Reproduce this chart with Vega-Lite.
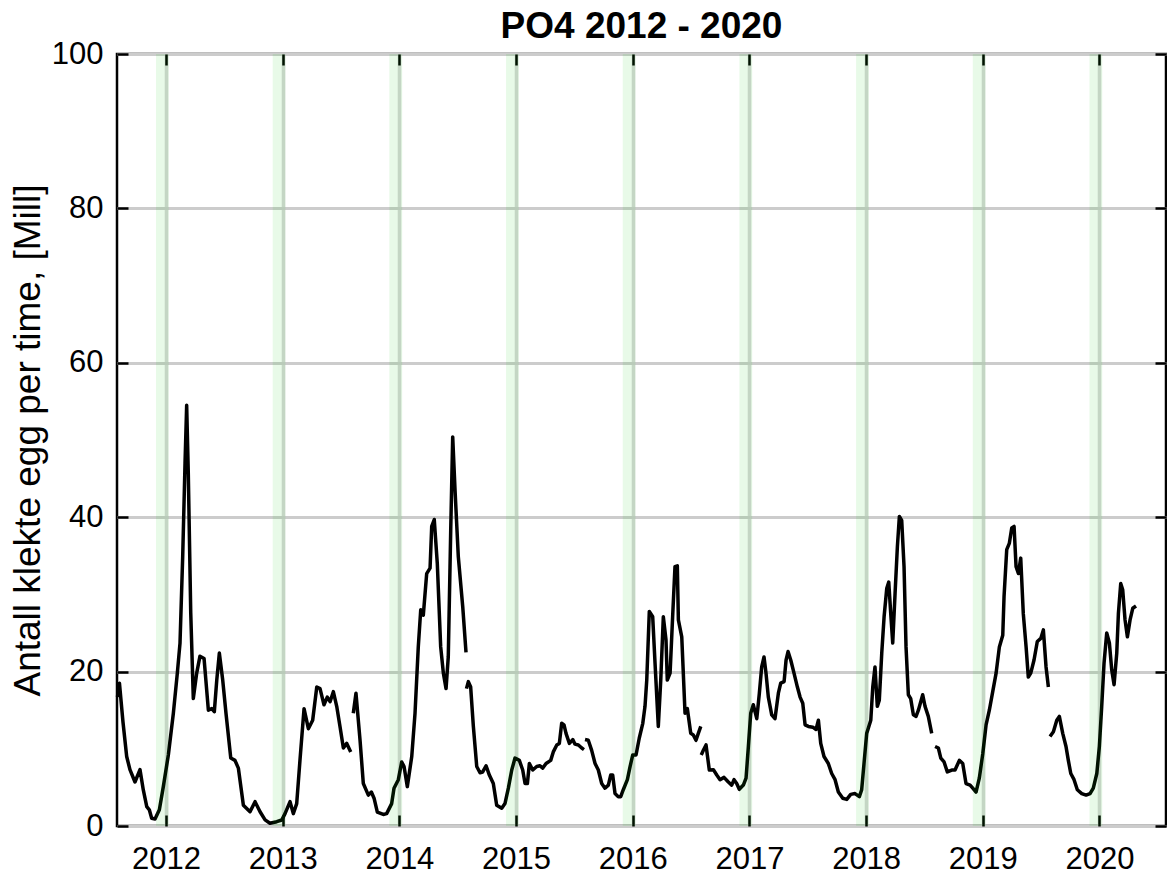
{
  "$schema": "https://vega.github.io/schema/vega-lite/v6.json",
  "autosize": "none",
  "width": 1049,
  "height": 772,
  "padding": {"left": 117, "top": 54, "right": 1, "bottom": 49},
  "background": "white",
  "title": {"text": "PO4 2012 - 2020", "fontSize": 37, "fontWeight": "bold", "font": "Liberation Sans", "color": "black", "anchor": "middle", "frame": "group", "baseline": "alphabetic", "offset": -37},
  "config": {
    "view": {"stroke": "black", "strokeWidth": 2.5},
    "axis": {"labelFont": "Liberation Sans", "titleFont": "Liberation Sans", "labelColor": "black", "titleColor": "black"}
  },
  "datasets": {
    "series": [
      {"t": 2011.584, "v": 16.7, "seg": 1}, {"t": 2011.601, "v": 18.5, "seg": 1}, {"t": 2011.631, "v": 13.5, "seg": 1}, {"t": 2011.663, "v": 9.0, "seg": 1}, {"t": 2011.691, "v": 7.3, "seg": 1}, {"t": 2011.734, "v": 5.7, "seg": 1}, {"t": 2011.777, "v": 7.3, "seg": 1}, {"t": 2011.805, "v": 4.7, "seg": 1}, {"t": 2011.835, "v": 2.5, "seg": 1}, {"t": 2011.857, "v": 2.1, "seg": 1}, {"t": 2011.877, "v": 1.0, "seg": 1}, {"t": 2011.906, "v": 0.9, "seg": 1}, {"t": 2011.943, "v": 2.1, "seg": 1}, {"t": 2011.977, "v": 5.1, "seg": 1}, {"t": 2012.020, "v": 9.2, "seg": 1}, {"t": 2012.063, "v": 14.6, "seg": 1}, {"t": 2012.097, "v": 19.8, "seg": 1}, {"t": 2012.120, "v": 23.7, "seg": 1}, {"t": 2012.143, "v": 34.9, "seg": 1}, {"t": 2012.163, "v": 47.0, "seg": 1}, {"t": 2012.177, "v": 54.5, "seg": 1}, {"t": 2012.191, "v": 45.7, "seg": 1}, {"t": 2012.212, "v": 27.6, "seg": 1}, {"t": 2012.234, "v": 16.5, "seg": 1}, {"t": 2012.263, "v": 19.8, "seg": 1}, {"t": 2012.291, "v": 22.0, "seg": 1}, {"t": 2012.326, "v": 21.7, "seg": 1}, {"t": 2012.363, "v": 15.0, "seg": 1}, {"t": 2012.392, "v": 15.2, "seg": 1}, {"t": 2012.414, "v": 14.8, "seg": 1}, {"t": 2012.435, "v": 18.9, "seg": 1}, {"t": 2012.457, "v": 22.4, "seg": 1}, {"t": 2012.486, "v": 18.9, "seg": 1}, {"t": 2012.514, "v": 14.6, "seg": 1}, {"t": 2012.555, "v": 8.8, "seg": 1}, {"t": 2012.591, "v": 8.5, "seg": 1}, {"t": 2012.620, "v": 7.5, "seg": 1}, {"t": 2012.663, "v": 2.7, "seg": 1}, {"t": 2012.720, "v": 1.85, "seg": 1}, {"t": 2012.763, "v": 3.15, "seg": 1}, {"t": 2012.806, "v": 1.85, "seg": 1}, {"t": 2012.849, "v": 0.8, "seg": 1}, {"t": 2012.891, "v": 0.35, "seg": 1}, {"t": 2012.949, "v": 0.56, "seg": 1}, {"t": 2012.992, "v": 0.78, "seg": 1}, {"t": 2013.020, "v": 1.6, "seg": 1}, {"t": 2013.063, "v": 3.15, "seg": 1}, {"t": 2013.091, "v": 1.6, "seg": 1}, {"t": 2013.120, "v": 2.9, "seg": 1}, {"t": 2013.148, "v": 8.5, "seg": 1}, {"t": 2013.183, "v": 15.2, "seg": 1}, {"t": 2013.220, "v": 12.6, "seg": 1}, {"t": 2013.257, "v": 13.7, "seg": 1}, {"t": 2013.292, "v": 18.0, "seg": 1}, {"t": 2013.320, "v": 17.8, "seg": 1}, {"t": 2013.354, "v": 15.7, "seg": 1}, {"t": 2013.382, "v": 16.7, "seg": 1}, {"t": 2013.406, "v": 16.1, "seg": 1}, {"t": 2013.434, "v": 17.4, "seg": 1}, {"t": 2013.463, "v": 15.5, "seg": 1}, {"t": 2013.491, "v": 12.9, "seg": 1}, {"t": 2013.520, "v": 10.1, "seg": 1}, {"t": 2013.549, "v": 10.7, "seg": 1}, {"t": 2013.583, "v": 9.6, "seg": 1},
      {"t": 2013.605, "v": 14.6, "seg": 2}, {"t": 2013.628, "v": 17.2, "seg": 2}, {"t": 2013.663, "v": 11.1, "seg": 2}, {"t": 2013.691, "v": 5.5, "seg": 2}, {"t": 2013.734, "v": 4.0, "seg": 2}, {"t": 2013.760, "v": 4.4, "seg": 2}, {"t": 2013.783, "v": 3.6, "seg": 2}, {"t": 2013.811, "v": 1.8, "seg": 2}, {"t": 2013.862, "v": 1.5, "seg": 2}, {"t": 2013.891, "v": 1.6, "seg": 2}, {"t": 2013.934, "v": 2.9, "seg": 2}, {"t": 2013.954, "v": 4.9, "seg": 2}, {"t": 2013.991, "v": 6.0, "seg": 2}, {"t": 2014.020, "v": 8.3, "seg": 2}, {"t": 2014.040, "v": 7.7, "seg": 2}, {"t": 2014.068, "v": 5.1, "seg": 2}, {"t": 2014.106, "v": 9.0, "seg": 2}, {"t": 2014.134, "v": 14.6, "seg": 2}, {"t": 2014.162, "v": 23.2, "seg": 2}, {"t": 2014.183, "v": 28.0, "seg": 2}, {"t": 2014.205, "v": 27.3, "seg": 2}, {"t": 2014.234, "v": 32.7, "seg": 2}, {"t": 2014.263, "v": 33.4, "seg": 2}, {"t": 2014.277, "v": 38.8, "seg": 2}, {"t": 2014.299, "v": 39.7, "seg": 2}, {"t": 2014.325, "v": 34.0, "seg": 2}, {"t": 2014.354, "v": 23.2, "seg": 2}, {"t": 2014.377, "v": 19.8, "seg": 2}, {"t": 2014.400, "v": 17.8, "seg": 2}, {"t": 2014.419, "v": 21.9, "seg": 2}, {"t": 2014.440, "v": 38.3, "seg": 2}, {"t": 2014.457, "v": 50.4, "seg": 2}, {"t": 2014.477, "v": 43.5, "seg": 2}, {"t": 2014.505, "v": 34.9, "seg": 2}, {"t": 2014.543, "v": 28.4, "seg": 2}, {"t": 2014.571, "v": 22.5, "seg": 2},
      {"t": 2014.575, "v": 17.8, "seg": 3}, {"t": 2014.591, "v": 18.7, "seg": 3}, {"t": 2014.611, "v": 18.0, "seg": 3}, {"t": 2014.634, "v": 12.9, "seg": 3}, {"t": 2014.663, "v": 7.7, "seg": 3}, {"t": 2014.691, "v": 6.9, "seg": 3}, {"t": 2014.714, "v": 7.0, "seg": 3}, {"t": 2014.743, "v": 7.8, "seg": 3}, {"t": 2014.771, "v": 6.6, "seg": 3}, {"t": 2014.805, "v": 5.5, "seg": 3}, {"t": 2014.834, "v": 2.7, "seg": 3}, {"t": 2014.877, "v": 2.3, "seg": 3}, {"t": 2014.905, "v": 2.9, "seg": 3}, {"t": 2014.934, "v": 4.9, "seg": 3}, {"t": 2014.963, "v": 7.25, "seg": 3}, {"t": 2014.991, "v": 8.8, "seg": 3}, {"t": 2015.028, "v": 8.5, "seg": 3}, {"t": 2015.057, "v": 7.25, "seg": 3}, {"t": 2015.077, "v": 5.5, "seg": 3}, {"t": 2015.097, "v": 5.5, "seg": 3}, {"t": 2015.114, "v": 8.1, "seg": 3}, {"t": 2015.143, "v": 7.25, "seg": 3}, {"t": 2015.177, "v": 7.7, "seg": 3}, {"t": 2015.205, "v": 7.8, "seg": 3}, {"t": 2015.229, "v": 7.5, "seg": 3}, {"t": 2015.257, "v": 8.1, "seg": 3}, {"t": 2015.297, "v": 8.5, "seg": 3}, {"t": 2015.319, "v": 9.6, "seg": 3}, {"t": 2015.349, "v": 10.5, "seg": 3}, {"t": 2015.371, "v": 10.7, "seg": 3}, {"t": 2015.391, "v": 13.3, "seg": 3}, {"t": 2015.411, "v": 13.1, "seg": 3}, {"t": 2015.428, "v": 12.0, "seg": 3}, {"t": 2015.457, "v": 10.7, "seg": 3}, {"t": 2015.486, "v": 11.2, "seg": 3}, {"t": 2015.505, "v": 10.6, "seg": 3}, {"t": 2015.534, "v": 10.5, "seg": 3}, {"t": 2015.563, "v": 10.1, "seg": 3}, {"t": 2015.582, "v": 9.9, "seg": 3},
      {"t": 2015.591, "v": 11.2, "seg": 4}, {"t": 2015.619, "v": 11.1, "seg": 4}, {"t": 2015.648, "v": 9.8, "seg": 4}, {"t": 2015.677, "v": 8.1, "seg": 4}, {"t": 2015.705, "v": 7.25, "seg": 4}, {"t": 2015.734, "v": 5.5, "seg": 4}, {"t": 2015.762, "v": 4.9, "seg": 4}, {"t": 2015.791, "v": 5.3, "seg": 4}, {"t": 2015.811, "v": 6.6, "seg": 4}, {"t": 2015.828, "v": 6.6, "seg": 4}, {"t": 2015.848, "v": 4.2, "seg": 4}, {"t": 2015.876, "v": 3.8, "seg": 4}, {"t": 2015.897, "v": 3.8, "seg": 4}, {"t": 2015.919, "v": 4.7, "seg": 4}, {"t": 2015.954, "v": 6.0, "seg": 4}, {"t": 2015.977, "v": 7.7, "seg": 4}, {"t": 2016.000, "v": 9.2, "seg": 4}, {"t": 2016.028, "v": 9.2, "seg": 4}, {"t": 2016.056, "v": 11.4, "seg": 4}, {"t": 2016.086, "v": 13.3, "seg": 4}, {"t": 2016.105, "v": 15.5, "seg": 4}, {"t": 2016.120, "v": 18.9, "seg": 4}, {"t": 2016.142, "v": 27.8, "seg": 4}, {"t": 2016.171, "v": 27.1, "seg": 4}, {"t": 2016.191, "v": 21.1, "seg": 4}, {"t": 2016.219, "v": 12.9, "seg": 4}, {"t": 2016.240, "v": 18.9, "seg": 4}, {"t": 2016.262, "v": 27.1, "seg": 4}, {"t": 2016.285, "v": 24.1, "seg": 4}, {"t": 2016.296, "v": 18.9, "seg": 4}, {"t": 2016.320, "v": 19.8, "seg": 4}, {"t": 2016.343, "v": 27.5, "seg": 4}, {"t": 2016.362, "v": 33.6, "seg": 4}, {"t": 2016.382, "v": 33.7, "seg": 4}, {"t": 2016.391, "v": 26.7, "seg": 4}, {"t": 2016.420, "v": 24.5, "seg": 4}, {"t": 2016.448, "v": 14.6, "seg": 4}, {"t": 2016.468, "v": 15.2, "seg": 4}, {"t": 2016.497, "v": 12.0, "seg": 4}, {"t": 2016.519, "v": 11.8, "seg": 4}, {"t": 2016.542, "v": 11.1, "seg": 4}, {"t": 2016.562, "v": 12.0, "seg": 4}, {"t": 2016.583, "v": 12.9, "seg": 4},
      {"t": 2016.587, "v": 9.2, "seg": 5}, {"t": 2016.605, "v": 9.8, "seg": 5}, {"t": 2016.628, "v": 10.5, "seg": 5}, {"t": 2016.656, "v": 7.25, "seg": 5}, {"t": 2016.691, "v": 7.3, "seg": 5}, {"t": 2016.720, "v": 6.6, "seg": 5}, {"t": 2016.748, "v": 6.0, "seg": 5}, {"t": 2016.782, "v": 6.3, "seg": 5}, {"t": 2016.819, "v": 5.7, "seg": 5}, {"t": 2016.848, "v": 5.3, "seg": 5}, {"t": 2016.868, "v": 6.0, "seg": 5}, {"t": 2016.891, "v": 5.5, "seg": 5}, {"t": 2016.913, "v": 4.75, "seg": 5}, {"t": 2016.948, "v": 5.3, "seg": 5}, {"t": 2016.971, "v": 6.2, "seg": 5}, {"t": 2016.991, "v": 10.3, "seg": 5}, {"t": 2017.011, "v": 14.6, "seg": 5}, {"t": 2017.033, "v": 15.7, "seg": 5}, {"t": 2017.063, "v": 13.9, "seg": 5}, {"t": 2017.085, "v": 17.2, "seg": 5}, {"t": 2017.105, "v": 20.6, "seg": 5}, {"t": 2017.125, "v": 21.9, "seg": 5}, {"t": 2017.142, "v": 19.8, "seg": 5}, {"t": 2017.162, "v": 16.7, "seg": 5}, {"t": 2017.191, "v": 14.4, "seg": 5}, {"t": 2017.219, "v": 13.9, "seg": 5}, {"t": 2017.248, "v": 17.2, "seg": 5}, {"t": 2017.268, "v": 18.5, "seg": 5}, {"t": 2017.297, "v": 18.7, "seg": 5}, {"t": 2017.314, "v": 21.5, "seg": 5}, {"t": 2017.331, "v": 22.6, "seg": 5}, {"t": 2017.354, "v": 21.5, "seg": 5}, {"t": 2017.382, "v": 19.8, "seg": 5}, {"t": 2017.411, "v": 18.0, "seg": 5}, {"t": 2017.434, "v": 16.7, "seg": 5}, {"t": 2017.457, "v": 15.9, "seg": 5}, {"t": 2017.477, "v": 13.1, "seg": 5}, {"t": 2017.505, "v": 12.9, "seg": 5}, {"t": 2017.543, "v": 12.8, "seg": 5}, {"t": 2017.571, "v": 12.5, "seg": 5}, {"t": 2017.591, "v": 13.7, "seg": 5}, {"t": 2017.611, "v": 10.7, "seg": 5}, {"t": 2017.639, "v": 9.0, "seg": 5}, {"t": 2017.676, "v": 8.1, "seg": 5}, {"t": 2017.705, "v": 6.8, "seg": 5}, {"t": 2017.734, "v": 6.0, "seg": 5}, {"t": 2017.762, "v": 4.4, "seg": 5}, {"t": 2017.800, "v": 3.6, "seg": 5}, {"t": 2017.834, "v": 3.45, "seg": 5}, {"t": 2017.868, "v": 4.1, "seg": 5}, {"t": 2017.905, "v": 4.2, "seg": 5}, {"t": 2017.942, "v": 3.8, "seg": 5}, {"t": 2017.962, "v": 4.7, "seg": 5}, {"t": 2017.982, "v": 8.1, "seg": 5}, {"t": 2018.005, "v": 12.0, "seg": 5}, {"t": 2018.040, "v": 13.7, "seg": 5}, {"t": 2018.057, "v": 18.0, "seg": 5}, {"t": 2018.076, "v": 20.6, "seg": 5}, {"t": 2018.096, "v": 15.5, "seg": 5}, {"t": 2018.113, "v": 16.3, "seg": 5}, {"t": 2018.134, "v": 22.4, "seg": 5}, {"t": 2018.154, "v": 27.1, "seg": 5}, {"t": 2018.177, "v": 30.8, "seg": 5}, {"t": 2018.194, "v": 31.6, "seg": 5}, {"t": 2018.211, "v": 27.5, "seg": 5}, {"t": 2018.228, "v": 23.7, "seg": 5}, {"t": 2018.248, "v": 30.1, "seg": 5}, {"t": 2018.268, "v": 36.2, "seg": 5}, {"t": 2018.285, "v": 40.1, "seg": 5}, {"t": 2018.305, "v": 39.6, "seg": 5}, {"t": 2018.325, "v": 33.6, "seg": 5}, {"t": 2018.342, "v": 23.2, "seg": 5}, {"t": 2018.362, "v": 17.0, "seg": 5}, {"t": 2018.382, "v": 16.5, "seg": 5}, {"t": 2018.405, "v": 14.4, "seg": 5}, {"t": 2018.428, "v": 14.2, "seg": 5}, {"t": 2018.448, "v": 15.0, "seg": 5}, {"t": 2018.485, "v": 17.0, "seg": 5}, {"t": 2018.505, "v": 15.5, "seg": 5}, {"t": 2018.533, "v": 14.2, "seg": 5}, {"t": 2018.562, "v": 12.0, "seg": 5},
      {"t": 2018.591, "v": 10.3, "seg": 6}, {"t": 2018.619, "v": 10.1, "seg": 6}, {"t": 2018.640, "v": 8.8, "seg": 6}, {"t": 2018.668, "v": 8.3, "seg": 6}, {"t": 2018.696, "v": 7.0, "seg": 6}, {"t": 2018.734, "v": 7.25, "seg": 6}, {"t": 2018.762, "v": 7.25, "seg": 6}, {"t": 2018.799, "v": 8.5, "seg": 6}, {"t": 2018.828, "v": 8.1, "seg": 6}, {"t": 2018.856, "v": 5.5, "seg": 6}, {"t": 2018.891, "v": 5.3, "seg": 6}, {"t": 2018.914, "v": 4.9, "seg": 6}, {"t": 2018.942, "v": 4.4, "seg": 6}, {"t": 2018.970, "v": 6.2, "seg": 6}, {"t": 2019.000, "v": 9.4, "seg": 6}, {"t": 2019.028, "v": 13.1, "seg": 6}, {"t": 2019.056, "v": 15.0, "seg": 6}, {"t": 2019.085, "v": 17.4, "seg": 6}, {"t": 2019.114, "v": 19.8, "seg": 6}, {"t": 2019.142, "v": 23.2, "seg": 6}, {"t": 2019.171, "v": 24.7, "seg": 6}, {"t": 2019.182, "v": 29.7, "seg": 6}, {"t": 2019.205, "v": 35.8, "seg": 6}, {"t": 2019.227, "v": 36.6, "seg": 6}, {"t": 2019.248, "v": 38.6, "seg": 6}, {"t": 2019.268, "v": 38.8, "seg": 6}, {"t": 2019.285, "v": 33.6, "seg": 6}, {"t": 2019.305, "v": 32.7, "seg": 6}, {"t": 2019.325, "v": 34.7, "seg": 6}, {"t": 2019.347, "v": 27.5, "seg": 6}, {"t": 2019.371, "v": 23.2, "seg": 6}, {"t": 2019.390, "v": 19.3, "seg": 6}, {"t": 2019.411, "v": 19.8, "seg": 6}, {"t": 2019.439, "v": 21.5, "seg": 6}, {"t": 2019.467, "v": 23.9, "seg": 6}, {"t": 2019.497, "v": 24.3, "seg": 6}, {"t": 2019.519, "v": 25.4, "seg": 6}, {"t": 2019.542, "v": 20.6, "seg": 6}, {"t": 2019.562, "v": 18.0, "seg": 6},
      {"t": 2019.576, "v": 11.6, "seg": 7}, {"t": 2019.605, "v": 12.2, "seg": 7}, {"t": 2019.634, "v": 13.7, "seg": 7}, {"t": 2019.656, "v": 14.2, "seg": 7}, {"t": 2019.685, "v": 12.0, "seg": 7}, {"t": 2019.713, "v": 10.3, "seg": 7}, {"t": 2019.733, "v": 8.5, "seg": 7}, {"t": 2019.754, "v": 6.8, "seg": 7}, {"t": 2019.782, "v": 6.0, "seg": 7}, {"t": 2019.810, "v": 4.7, "seg": 7}, {"t": 2019.848, "v": 4.2, "seg": 7}, {"t": 2019.885, "v": 4.0, "seg": 7}, {"t": 2019.919, "v": 4.2, "seg": 7}, {"t": 2019.947, "v": 4.9, "seg": 7}, {"t": 2019.977, "v": 6.8, "seg": 7}, {"t": 2019.999, "v": 10.3, "seg": 7}, {"t": 2020.019, "v": 15.5, "seg": 7}, {"t": 2020.039, "v": 21.1, "seg": 7}, {"t": 2020.062, "v": 25.0, "seg": 7}, {"t": 2020.085, "v": 23.7, "seg": 7}, {"t": 2020.105, "v": 20.2, "seg": 7}, {"t": 2020.125, "v": 18.3, "seg": 7}, {"t": 2020.148, "v": 22.4, "seg": 7}, {"t": 2020.162, "v": 27.5, "seg": 7}, {"t": 2020.182, "v": 31.4, "seg": 7}, {"t": 2020.199, "v": 30.6, "seg": 7}, {"t": 2020.219, "v": 26.7, "seg": 7}, {"t": 2020.239, "v": 24.5, "seg": 7}, {"t": 2020.262, "v": 26.7, "seg": 7}, {"t": 2020.285, "v": 28.2, "seg": 7}, {"t": 2020.313, "v": 28.5, "seg": 7}
    ],
    "bands": [
      {"start": 2011.914, "end": 2012.024}, {"start": 2012.914, "end": 2013.024}, {"start": 2013.914, "end": 2014.024},
      {"start": 2014.914, "end": 2015.024}, {"start": 2015.914, "end": 2016.024}, {"start": 2016.914, "end": 2017.024},
      {"start": 2017.914, "end": 2018.024}, {"start": 2018.914, "end": 2019.024}, {"start": 2019.914, "end": 2020.024}
    ]
  },
  "layer": [
    {
      "data": {"name": "series"},
      "mark": {"type": "line", "color": "black", "strokeWidth": 3.5, "strokeJoin": "round"},
      "encoding": {
        "x": {
          "field": "t", "type": "quantitative",
          "scale": {"domain": [2011.58, 2020.57], "nice": false, "zero": false},
          "axis": {"orient": "bottom", "values": [2012, 2013, 2014, 2015, 2016, 2017, 2018, 2019, 2020], "format": "d", "title": null,
                   "grid": true, "gridColor": "#d8d8d8", "gridWidth": 3.5, "domain": false,
                   "tickSize": -11, "tickWidth": 2.5, "tickColor": "black",
                   "labelPadding": 29.5, "labelFontSize": 31, "labelFlush": false, "labelOverlap": false}
        },
        "y": {
          "field": "v", "type": "quantitative",
          "scale": {"domain": [0, 100], "nice": false},
          "axis": {"orient": "left", "values": [0, 20, 40, 60, 80, 100], "title": "Antall klekte egg per time, [Mill]",
                   "titleFontSize": 37, "titleFontWeight": "normal", "titleX": -78, "titleY": 386, "titleAngle": 270,
                   "titleAlign": "center", "titleBaseline": "alphabetic",
                   "grid": true, "gridColor": "#cccccc", "gridWidth": 3, "domain": false,
                   "tickSize": -11, "tickWidth": 2.5, "tickColor": "black",
                   "labelPadding": 25, "labelFontSize": 31, "labelFlush": false, "labelOverlap": false}
        },
        "detail": {"field": "seg", "type": "nominal"}
      }
    },
    {
      "data": {"name": "bands"},
      "mark": {"type": "rect", "color": "#00c800", "opacity": 0.09},
      "encoding": {
        "x": {
          "field": "start", "type": "quantitative",
          "axis": {"orient": "top", "values": [2012, 2013, 2014, 2015, 2016, 2017, 2018, 2019, 2020], "labels": false, "grid": false, "domain": false,
                   "tickSize": -11, "tickWidth": 2.5, "tickColor": "black", "title": null}
        },
        "x2": {"field": "end"},
        "y": {
          "datum": 0, "type": "quantitative",
          "axis": {"orient": "right", "values": [0, 20, 40, 60, 80, 100], "labels": false, "grid": false, "domain": false,
                   "tickSize": -11, "tickWidth": 2.5, "tickColor": "black", "title": null}
        },
        "y2": {"datum": 100}
      }
    }
  ],
  "resolve": {"axis": {"x": "independent", "y": "independent"}}
}
